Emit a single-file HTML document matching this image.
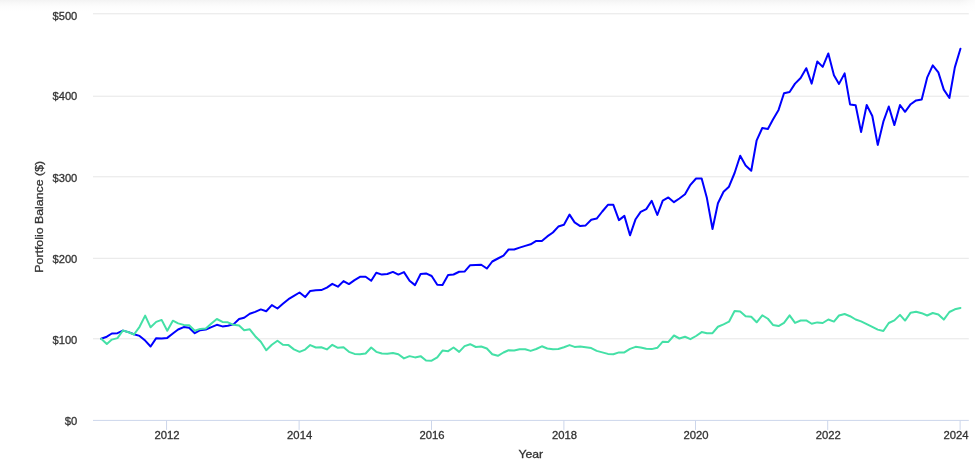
<!DOCTYPE html>
<html><head><meta charset="utf-8"><title>Portfolio Balance</title>
<style>
html,body{margin:0;padding:0;background:#fff;}
body{width:975px;height:474px;overflow:hidden;position:relative;font-family:"Liberation Sans",sans-serif;}
#top{position:absolute;left:0;top:0;width:975px;height:12px;background:linear-gradient(#f3f3f3 0%,#f8f8f8 25%,#fcfcfc 50%,#fefefe 80%,#ffffff 100%);}
#topr{position:absolute;right:0;top:0;width:16px;height:12px;background:linear-gradient(to right,rgba(255,255,255,0),rgba(255,255,255,0.7));}
svg{position:absolute;left:0;top:0;}
text{font-family:"Liberation Sans",sans-serif;font-size:11.4px;fill:#333;stroke:#333;stroke-width:0.3px;}
</style></head><body>
<div id="top"></div><div id="topr"></div>
<svg width="975" height="474" viewBox="0 0 975 474">
<rect x="93" y="13.30" width="875.8" height="1" fill="#e6e6e6"/>
<rect x="93" y="95.70" width="875.8" height="1" fill="#e6e6e6"/>
<rect x="93" y="176.30" width="875.8" height="1" fill="#e6e6e6"/>
<rect x="93" y="257.80" width="875.8" height="1" fill="#e6e6e6"/>
<rect x="93" y="338.30" width="875.8" height="1" fill="#e6e6e6"/>
<rect x="93" y="419.90" width="875.8" height="1" fill="#ccd6eb"/>
<rect x="166.05" y="420.40" width="1" height="9.5" fill="#ccd6eb"/>
<rect x="298.60" y="420.40" width="1" height="9.5" fill="#ccd6eb"/>
<rect x="431.00" y="420.40" width="1" height="9.5" fill="#ccd6eb"/>
<rect x="563.40" y="420.40" width="1" height="9.5" fill="#ccd6eb"/>
<rect x="695.00" y="420.40" width="1" height="9.5" fill="#ccd6eb"/>
<rect x="827.20" y="420.40" width="1" height="9.5" fill="#ccd6eb"/>
<rect x="959.60" y="420.40" width="1" height="9.5" fill="#ccd6eb"/>
<text x="77.3" y="19.6" text-anchor="end" textLength="24.8" lengthAdjust="spacingAndGlyphs">$500</text>
<text x="77.3" y="100.0" text-anchor="end" textLength="24.8" lengthAdjust="spacingAndGlyphs">$400</text>
<text x="77.3" y="181.9" text-anchor="end" textLength="24.8" lengthAdjust="spacingAndGlyphs">$300</text>
<text x="77.3" y="262.7" text-anchor="end" textLength="24.8" lengthAdjust="spacingAndGlyphs">$200</text>
<text x="77.3" y="343.8" text-anchor="end" textLength="24.8" lengthAdjust="spacingAndGlyphs">$100</text>
<text x="77.3" y="425.0" text-anchor="end" textLength="12.5" lengthAdjust="spacingAndGlyphs">$0</text>
<text x="167.10" y="439.0" text-anchor="middle" textLength="25.1" lengthAdjust="spacingAndGlyphs">2012</text>
<text x="299.65" y="439.0" text-anchor="middle" textLength="25.1" lengthAdjust="spacingAndGlyphs">2014</text>
<text x="432.05" y="439.0" text-anchor="middle" textLength="25.1" lengthAdjust="spacingAndGlyphs">2016</text>
<text x="564.45" y="439.0" text-anchor="middle" textLength="25.1" lengthAdjust="spacingAndGlyphs">2018</text>
<text x="696.05" y="439.0" text-anchor="middle" textLength="25.1" lengthAdjust="spacingAndGlyphs">2020</text>
<text x="828.25" y="439.0" text-anchor="middle" textLength="25.1" lengthAdjust="spacingAndGlyphs">2022</text>
<text x="956.00" y="439.0" text-anchor="middle" textLength="25.1" lengthAdjust="spacingAndGlyphs">2024</text>
<text x="530.8" y="457.5" text-anchor="middle" textLength="24.7" lengthAdjust="spacingAndGlyphs">Year</text>
<text transform="translate(42.5,216.8) rotate(-90)" text-anchor="middle" textLength="111.8" lengthAdjust="spacingAndGlyphs">Portfolio Balance ($)</text>
<path d="M101.20 338.80 L106.81 336.70 L111.87 333.50 L117.48 333.20 L122.91 330.60 L128.52 332.10 L133.95 334.20 L139.56 335.90 L145.17 340.60 L150.60 346.50 L156.21 338.15 L161.64 338.40 L167.25 337.90 L172.86 333.50 L178.11 329.50 L183.72 327.10 L189.15 327.70 L194.76 333.20 L200.19 330.15 L205.80 329.50 L211.41 327.15 L216.84 324.80 L222.45 326.40 L227.87 325.75 L233.49 324.40 L239.10 319.00 L244.16 317.75 L249.77 313.70 L255.20 311.85 L260.81 309.40 L266.24 311.20 L271.85 305.10 L277.46 308.50 L282.89 303.85 L288.50 299.20 L293.93 295.85 L299.54 292.50 L305.15 297.10 L310.22 290.90 L315.83 290.30 L321.26 290.10 L326.87 287.60 L332.29 283.85 L337.90 286.70 L343.51 281.10 L348.94 284.10 L354.55 280.15 L359.98 276.80 L365.59 276.80 L371.20 280.80 L376.27 272.80 L381.88 274.60 L387.31 274.00 L392.92 271.90 L398.35 274.60 L403.96 272.15 L409.57 280.80 L415.00 285.10 L420.61 274.00 L426.04 273.40 L431.65 276.00 L437.26 284.75 L442.51 284.90 L448.12 275.10 L453.54 274.50 L459.15 271.75 L464.58 271.60 L470.19 265.20 L475.80 265.00 L481.23 264.70 L486.84 268.55 L492.27 261.50 L497.88 258.50 L503.49 255.60 L508.56 249.50 L514.17 249.50 L519.60 247.60 L525.21 245.90 L530.64 244.30 L536.25 240.90 L541.86 240.90 L547.29 236.40 L552.90 232.50 L558.33 226.55 L563.94 224.80 L569.55 214.60 L574.61 222.40 L580.22 226.10 L585.65 225.40 L591.26 219.80 L596.69 218.55 L602.30 211.50 L607.91 204.80 L613.34 204.80 L618.95 220.15 L624.38 215.85 L629.99 235.30 L635.60 219.20 L640.67 211.90 L646.28 209.10 L651.71 200.80 L657.32 215.00 L662.75 200.60 L668.36 197.40 L673.97 202.20 L679.40 198.50 L685.01 194.30 L690.43 184.80 L696.04 178.50 L701.65 178.50 L706.90 198.10 L712.51 229.00 L717.94 203.20 L723.55 191.70 L728.98 186.70 L734.59 173.00 L740.20 155.70 L745.63 165.50 L751.24 170.80 L756.67 140.30 L762.28 128.00 L767.89 129.00 L772.96 119.50 L778.57 109.90 L784.00 93.30 L789.61 92.00 L795.03 83.60 L800.64 78.00 L806.26 68.20 L811.68 83.60 L817.29 61.50 L822.72 66.90 L828.33 53.45 L833.94 75.30 L839.01 83.90 L844.62 73.40 L850.05 104.40 L855.66 105.30 L861.09 132.10 L866.70 105.00 L872.31 116.00 L877.74 144.90 L883.35 121.70 L888.78 106.50 L894.39 125.10 L900.00 105.00 L905.06 111.80 L910.67 104.20 L916.10 100.40 L921.71 99.45 L927.14 77.70 L932.75 65.35 L938.36 72.40 L943.79 89.60 L949.40 98.00 L954.83 67.40 L960.44 48.80" fill="none" stroke="#0000ff" stroke-width="2" stroke-linejoin="round" stroke-linecap="round"/>
<path d="M101.20 338.80 L106.81 343.90 L111.87 339.60 L117.48 338.15 L122.91 330.50 L128.52 332.25 L133.95 334.50 L139.56 326.80 L145.17 315.60 L150.60 327.30 L156.21 321.90 L161.64 319.90 L167.25 330.80 L172.86 320.70 L178.11 323.40 L183.72 324.90 L189.15 325.20 L194.76 330.80 L200.19 328.90 L205.80 328.40 L211.41 323.45 L216.84 319.00 L222.45 321.90 L227.87 322.30 L233.49 324.80 L239.10 325.60 L244.16 330.30 L249.77 329.30 L255.20 336.20 L260.81 341.70 L266.24 350.25 L271.85 344.80 L277.46 340.80 L282.89 344.80 L288.50 345.10 L293.93 349.40 L299.54 351.85 L305.15 349.60 L310.22 345.10 L315.83 347.50 L321.26 347.20 L326.87 349.40 L332.29 344.80 L337.90 347.80 L343.51 347.30 L348.94 351.85 L354.55 353.90 L359.98 354.30 L365.59 353.55 L371.20 347.50 L376.27 351.85 L381.88 353.45 L387.31 353.70 L392.92 353.10 L398.35 354.30 L403.96 358.40 L409.57 356.15 L415.00 357.40 L420.61 356.15 L426.04 360.50 L431.65 360.70 L437.26 357.40 L442.51 350.60 L448.12 351.20 L453.54 347.50 L459.15 351.85 L464.58 346.10 L470.19 344.20 L475.80 347.00 L481.23 346.55 L486.84 348.50 L492.27 354.30 L497.88 355.80 L503.49 352.50 L508.56 350.25 L514.17 350.50 L519.60 349.30 L525.21 349.30 L530.64 350.90 L536.25 349.00 L541.86 346.30 L547.29 348.50 L552.90 349.30 L558.33 349.00 L563.94 347.30 L569.55 345.10 L574.61 346.90 L580.22 346.40 L585.65 347.15 L591.26 348.10 L596.69 350.90 L602.30 352.40 L607.91 353.90 L613.34 354.20 L618.95 352.40 L624.38 352.40 L629.99 348.90 L635.60 346.85 L640.67 347.50 L646.28 348.70 L651.71 349.10 L657.32 347.80 L662.75 341.70 L668.36 341.90 L673.97 335.50 L679.40 338.50 L685.01 336.75 L690.43 339.20 L696.04 336.00 L701.65 332.10 L706.90 333.20 L712.51 333.15 L717.94 326.75 L723.55 324.30 L728.98 321.70 L734.59 311.00 L740.20 311.40 L745.63 316.20 L751.24 316.80 L756.67 322.30 L762.28 315.30 L767.89 318.75 L772.96 324.90 L778.57 326.10 L784.00 322.90 L789.61 315.30 L795.03 322.90 L800.64 320.50 L806.26 320.40 L811.68 323.75 L817.29 322.40 L822.72 323.00 L828.33 319.50 L833.94 321.60 L839.01 315.50 L844.62 314.00 L850.05 316.20 L855.66 319.50 L861.09 321.40 L866.70 324.10 L872.31 326.90 L877.74 329.60 L883.35 331.00 L888.78 323.00 L894.39 320.40 L900.00 314.90 L905.06 320.55 L910.67 312.70 L916.10 311.75 L921.71 313.20 L927.14 315.50 L932.75 313.00 L938.36 314.50 L943.79 319.60 L949.40 312.00 L954.83 309.30 L960.44 308.00" fill="none" stroke="#44e0a6" stroke-width="2" stroke-linejoin="round" stroke-linecap="round"/>
</svg>
</body></html>
